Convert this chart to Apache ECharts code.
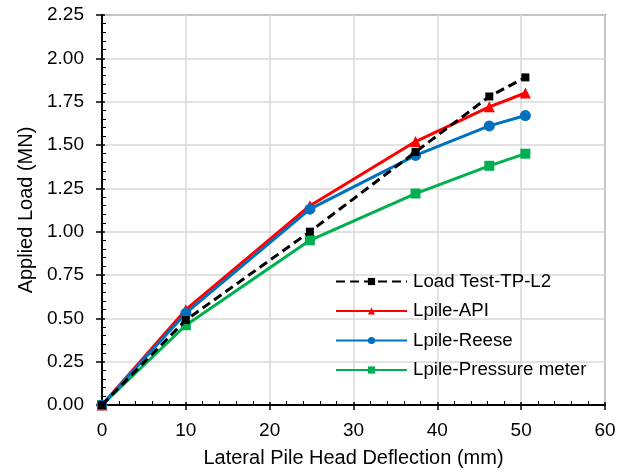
<!DOCTYPE html>
<html><head><meta charset="utf-8">
<script src="https://cdn.jsdelivr.net/npm/echarts@6/dist/echarts.min.js"></script>
<style>html,body{margin:0;padding:0;background:#fff}#c{width:630px;height:473px}</style>
</head><body><div id="c"></div>
<script>
const deflection = [0, 10, 24.8, 37.4, 46.2, 50.5];
const loadTest = [0, 0.49, 1.00, 1.46, 1.78, 1.89];
const lpileAPI = [0, 0.55, 1.15, 1.52, 1.72, 1.80];
const lpileReese = [0, 0.53, 1.13, 1.44, 1.61, 1.67];
const lpilePM = [0, 0.46, 0.95, 1.22, 1.38, 1.45];
const seriesNames = ['Load Test-TP-L2', 'Lpile-API', 'Lpile-Reese', 'Lpile-Pressure meter'];
const xTitle = 'Lateral Pile Head Deflection (mm)';
const yTitle = 'Applied Load (MN)';

const font = 'Liberation Sans, Arial, sans-serif';
const pair = a => deflection.map((x, i) => [x, a[i]]);
const chart = echarts.init(document.getElementById('c'), null, {renderer: 'canvas'});
const baseX = {type: 'value', min: 0, max: 60, interval: 10};
const baseY = {type: 'value', min: 0, max: 2.25, interval: 0.25};
chart.setOption({
  animation: false,
  grid: {left: 102, right: 25, top: 15, bottom: 68, show: true, borderColor: '#8c8c8c', borderWidth: 2, backgroundColor: 'transparent'},
  xAxis: [
    Object.assign({}, baseX, {
      name: xTitle, nameLocation: 'middle', nameGap: 43,
      nameTextStyle: {fontFamily: font, fontSize: 20, color: '#000'},
      axisLine: {show: true, onZero: false, lineStyle: {color: '#000', width: 2}},
      axisTick: {show: true, length: 5, lineStyle: {color: '#000', width: 1.5}},
      axisLabel: {margin: 16, fontFamily: font, fontSize: 19, color: '#000'},
      splitLine: {show: true, lineStyle: {color: '#d9d9d9', width: 1.5}}
    }),
    Object.assign({}, baseX, {
      position: 'bottom',
      axisLine: {show: false},
      axisTick: {show: true, inside: true, length: 3, lineStyle: {color: '#000', width: 1.5}},
      minorTick: {show: true, splitNumber: 5, length: 4, lineStyle: {color: '#000', width: 1}},
      axisLabel: {show: false}, splitLine: {show: false}
    })
  ],
  yAxis: [
    Object.assign({}, baseY, {
      name: yTitle, nameLocation: 'middle', nameGap: 62,
      nameTextStyle: {fontFamily: font, fontSize: 20, color: '#000'},
      axisLine: {show: true, onZero: false, lineStyle: {color: '#000', width: 2}},
      axisTick: {show: true, length: 6, lineStyle: {color: '#000', width: 1.5}},
      axisLabel: {margin: 18, fontFamily: font, fontSize: 19, color: '#000', formatter: v => v.toFixed(2)},
      splitLine: {show: true, lineStyle: {color: '#d9d9d9', width: 1.5}}
    }),
    Object.assign({}, baseY, {
      position: 'left',
      axisLine: {show: false},
      axisTick: {show: true, inside: true, length: 3, lineStyle: {color: '#000', width: 1.5}},
      minorTick: {show: true, splitNumber: 5, length: 4, lineStyle: {color: '#000', width: 1}},
      axisLabel: {show: false}, splitLine: {show: false}
    })
  ],
  legend: {
    orient: 'vertical', left: 335, top: 272, itemGap: 10.5, itemWidth: 71, itemHeight: 9, padding: 0,
    textStyle: {fontFamily: font, fontSize: 18.7, color: '#000', padding: [0, 0, 0, 1]},
    data: seriesNames
  },
  series: [
    {name: seriesNames[0], type: 'line', data: pair(loadTest), symbol: 'rect', symbolSize: 8,
     itemStyle: {color: '#000'}, lineStyle: {color: '#000', width: 3, type: [9, 5]}, z: 5},
    {name: seriesNames[1], type: 'line', data: pair(lpileAPI), symbol: 'triangle', symbolSize: 11,
     itemStyle: {color: '#ff0000'}, lineStyle: {color: '#ff0000', width: 3}, z: 3},
    {name: seriesNames[2], type: 'line', data: pair(lpileReese), symbol: 'circle', symbolSize: 11,
     itemStyle: {color: '#0070c0'}, lineStyle: {color: '#0070c0', width: 3}, z: 4},
    {name: seriesNames[3], type: 'line', data: pair(lpilePM), symbol: 'rect', symbolSize: 10,
     itemStyle: {color: '#00b050'}, lineStyle: {color: '#00b050', width: 3}, z: 2}
  ]
});
</script></body></html>
